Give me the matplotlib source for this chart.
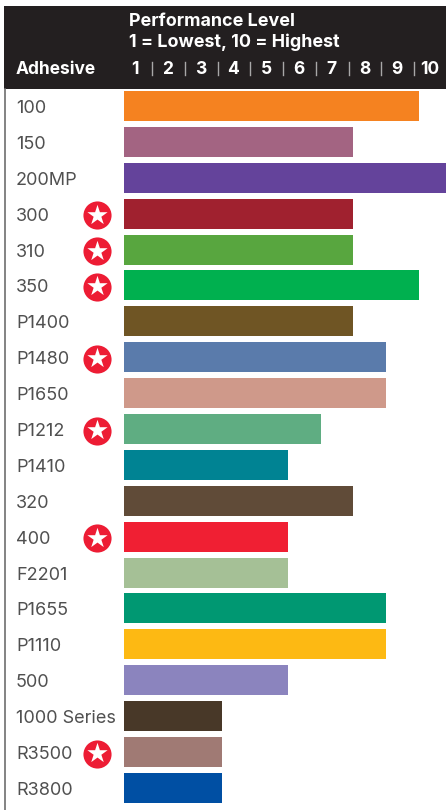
import matplotlib
matplotlib.use("Agg")
import matplotlib.pyplot as plt
from matplotlib.patches import Rectangle

adhesives = ["100", "150", "200MP", "300", "310", "350", "P1400", "P1480", "P1650", "P1212",
             "P1410", "320", "400", "F2201", "P1655", "P1110", "500", "1000 Series", "R3500", "R3800"]
levels = [9, 7, 10, 7, 7, 9, 7, 8, 8, 6, 5, 7, 5, 5, 8, 8, 5, 3, 3, 3]
colors = ["#F58220", "#A36482", "#64439B", "#A0212F", "#58A63F", "#00B04F", "#6F5524", "#5A7BAB",
          "#CF998A", "#5FAD82", "#008393", "#604B38", "#F01F33", "#A5C096", "#009872", "#FDB913",
          "#8B84BE", "#483828", "#A07A74", "#004FA3"]
starred = ["300", "310", "350", "P1480", "P1212", "400", "R3500"]
tick_labels = ["1", "2", "3", "4", "5", "6", "7", "8", "9", "10"]

W, H = 446, 810
plt.rcParams["font.family"] = ["Inter", "DejaVu Sans"]

fig = plt.figure(figsize=(W / 100, H / 100), dpi=100, facecolor="white")

# overlay in pixel space for header and row labels
bg = fig.add_axes([0, 0, 1, 1])
bg.set_xlim(0, W)
bg.set_ylim(H, 0)
bg.axis("off")
bg.add_patch(Rectangle((4, 6), W - 4, 83, facecolor="#231F20", edgecolor="none"))
bg.plot([4.5, 4.5], [89, H], color="#6E6E6E", lw=1.2)

bg.text(129, 22, "Performance Level", color="white", fontsize=12.9, fontweight="bold", va="center")
bg.text(129, 42, "1 = Lowest, 10 = Highest", color="white", fontsize=12.9, fontweight="bold", va="center")
bg.text(16, 69, "Adhesive", color="white", fontsize=12.5, fontweight="bold", va="center")

unit = 32.77
row = 35.89
for i, lab in enumerate(tick_labels):
    bg.text(135 + unit * i - (0.5 if i == 9 else 0), 69.5, lab, color="white", fontsize=12.5,
            fontweight="bold", ha="center", va="center")
    if i < 9:
        bg.plot([152 + unit * i] * 2, [62, 75], color="#A8A8A8", lw=1.0)

for i, name in enumerate(adhesives):
    y = 108.5 + row * i
    bg.text(16, y, name, color="#505050", fontsize=13, va="center")
    if name in starred:
        bg.scatter([97], [y - 1], s=410, color="#ED1C34", linewidths=0, zorder=3)
        bg.scatter([97], [y - 1.5], s=235, marker="*", color="white", linewidths=0, zorder=4)

# bars on their own axes so lengths come from the level scale
ax = fig.add_axes([124 / W, 0, (W - 124) / W, 1])
ax.patch.set_alpha(0)
ax.set_xlim(0, (W - 124) / unit)
# row i is centred at 106 + row*i pixels from the top
ax.set_ylim((H - 106) / row, -106 / row)
ax.barh(range(len(adhesives)), levels, height=30 / row, color=colors, linewidth=0)
ax.axis("off")

fig.savefig("out.png", dpi=100)
